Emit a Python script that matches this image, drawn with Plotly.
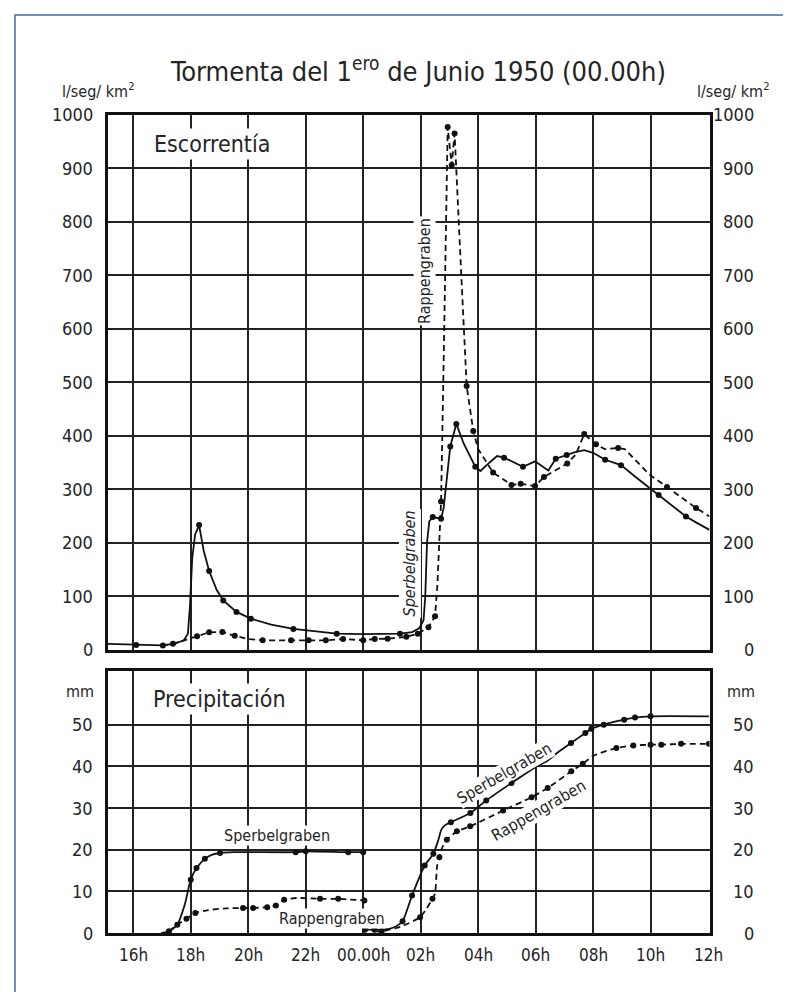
import plotly.graph_objects as go

# ---------------- data ----------------
# Runoff (l/seg/km2), time in hours since 00h of previous day (24 = 00.00h)
SP_Q_T = [15.12, 16.1, 17.0, 17.4, 17.75, 17.9, 17.97, 18.05, 18.15, 18.29, 18.45, 18.64, 18.9, 19.13, 19.59,
          20.09, 20.8, 21.57, 22.3, 23.08, 24.0, 25.28, 25.7, 25.95, 26.1, 26.16, 26.22, 26.3, 26.42, 26.6,
          26.71, 26.8, 26.92, 27.03, 27.24, 27.5, 27.9, 28.08, 28.4, 28.66, 28.9, 29.56, 29.98, 30.44, 30.7,
          31.08, 31.35, 31.69, 32.0, 32.42, 32.97, 33.5, 33.95, 34.28, 35.23, 35.58, 36.05]
SP_Q = [11, 9, 8, 11, 17, 30, 80, 170, 215, 233, 185, 147, 112, 92, 70.6,
        58, 47, 38.8, 34, 30, 29, 30, 33, 40, 55, 100, 200, 240, 248, 247,
        245, 265, 331, 380, 422, 385, 342, 334, 350, 362, 359, 342, 352, 335, 357,
        364, 369, 373, 368, 355, 345, 322, 303, 289, 249, 238, 224]
SP_QD_T = [16.1, 17.03, 17.38, 18.29, 18.64, 19.13, 19.59, 20.09, 21.57, 23.08, 25.28, 26.42, 26.71, 27.03,
           27.24, 27.9, 28.9, 29.56, 30.7, 31.08, 32.42, 32.97, 34.28, 35.23]
SP_QD = [9, 8, 11, 233, 147, 92, 70.6, 58, 38.8, 30, 30, 248, 245, 380,
         422, 342, 359, 342, 357, 364, 355, 345, 289, 249]

RP_Q_T = [17.0, 17.4, 17.8, 18.22, 18.64, 19.1, 19.53, 20.0, 20.5, 21.49, 22.1, 22.7, 23.3, 24.0, 24.4,
          24.85, 25.5, 25.9, 26.27, 26.5, 26.58, 26.65, 26.71, 26.8, 26.88, 26.94, 27.08, 27.18, 27.4, 27.6,
          27.83, 28.0, 28.52, 29.16, 29.48, 29.98, 30.29, 30.7, 31.1, 31.4, 31.69, 32.1, 32.4, 32.87, 33.1,
          33.95, 34.57, 35.58, 36.05]
RP_Q = [8, 11, 18, 25, 32.5, 33, 26, 20, 17.6, 17.6, 17.6, 17.6, 20, 17.6, 20,
        20.6, 24, 30, 42, 62.5, 120, 220, 277, 540, 800, 977, 906, 965, 715, 493,
        409, 375, 331, 308, 310, 306, 323, 335, 348, 365, 403, 384, 375, 377, 375,
        328, 304, 265, 249]
RP_QD_T = [18.22, 18.64, 19.1, 19.53, 20.5, 21.49, 22.1, 22.7, 23.3, 24.0, 24.4, 24.85, 25.5, 25.9, 26.27,
           26.5, 26.71, 26.94, 27.08, 27.18, 27.6, 27.83, 28.52, 29.16, 29.48, 29.98, 30.29, 31.1, 31.69,
           32.1, 32.87, 34.57, 35.58]
RP_QD = [25, 32.5, 33, 26, 17.6, 17.6, 17.6, 17.6, 20, 17.6, 20, 20.6, 24, 30, 42,
         62.5, 277, 977, 906, 965, 493, 409, 331, 308, 310, 306, 323, 348, 403,
         384, 377, 304, 265]

# Cumulative precipitation (mm)
SP_P1_T = [16.97, 17.24, 17.53, 17.79, 18.0, 18.2, 18.49, 18.75, 19.02, 19.5, 21.65, 22.0, 23.48, 24.0]
SP_P1 = [0, 0.4, 2.0, 6.8, 12.8, 15.6, 17.8, 18.8, 19.2, 19.4, 19.4, 19.6, 19.4, 19.4]
SP_P1D_T = [17.24, 17.53, 18.0, 18.2, 18.49, 19.02, 21.65, 22.0, 23.48, 24.0]
SP_P1D = [0.4, 2.0, 12.8, 15.6, 17.8, 19.2, 19.4, 19.6, 19.4, 19.4]

SP_P2_T = [24.06, 24.39, 24.9, 25.15, 25.37, 25.7, 26.14, 26.44, 26.6, 26.72, 26.85, 27.05, 27.73, 28.28,
           29.16, 30.03, 30.39, 30.8, 31.23, 31.73, 31.94, 32.37, 33.08, 33.46, 34.0, 36.03]
SP_P2 = [0.8, 0.8, 1.0, 1.6, 2.8, 9.0, 16.2, 19.0, 22.0, 24.8, 25.9, 26.6, 28.8, 31.8,
         36.0, 40.0, 41.2, 43.5, 45.6, 48.0, 49.0, 50.0, 51.2, 51.7, 52.0, 52.0]
SP_P2D_T = [24.06, 24.39, 25.37, 25.7, 26.14, 26.44, 27.05, 27.73, 28.28, 29.16, 31.23, 31.73, 31.94,
            32.37, 33.08, 33.46, 34.0]
SP_P2D = [0.8, 0.8, 2.8, 9.0, 16.2, 19.0, 26.6, 28.8, 31.8, 36.0, 45.6, 48.0, 49.0,
          50.0, 51.2, 51.7, 52.0]

RP_P1_T = [17.24, 17.53, 17.85, 18.16, 18.6, 19.2, 19.82, 20.17, 20.66, 20.96, 21.25, 21.7, 22.5, 23.13, 24.04]
RP_P1 = [0.4, 2.0, 3.4, 4.8, 5.5, 5.9, 6.0, 6.0, 6.2, 6.6, 8.0, 8.4, 8.2, 8.2, 7.8]
RP_P1D_T = [17.85, 18.16, 19.82, 20.17, 20.66, 20.96, 21.25, 22.5, 23.13, 24.04]
RP_P1D = [3.4, 4.8, 6.0, 6.0, 6.2, 6.6, 8.0, 8.2, 8.2, 7.8]

RP_P2_T = [24.4, 24.64, 25.3, 25.98, 26.2, 26.41, 26.5, 26.57, 26.65, 26.75, 26.91, 27.26, 27.72, 28.87,
           29.86, 30.42, 31.24, 31.64, 32.0, 32.81, 33.4, 34.0, 34.37, 35.06, 36.03]
RP_P2 = [0.4, 0.4, 1.5, 3.8, 5.8, 8.2, 9.5, 16.0, 18.2, 20.5, 22.4, 24.4, 25.6, 29.4,
         32.6, 34.8, 38.8, 40.6, 42.5, 44.4, 45.0, 45.2, 45.2, 45.4, 45.4]
RP_P2D_T = [24.64, 25.98, 26.41, 26.65, 26.91, 27.26, 27.72, 28.87, 29.86, 30.42, 31.24, 31.64, 32.81,
            33.4, 34.0, 34.37, 35.06, 36.03]
RP_P2D = [0.4, 3.8, 8.2, 18.2, 22.4, 24.4, 25.6, 29.4, 32.6, 34.8, 38.8, 40.6, 44.4,
          45.0, 45.2, 45.2, 45.4, 45.4]

Q_TICKS = [0, 100, 200, 300, 400, 500, 600, 700, 800, 900, 1000]
P_TICKS = [0, 10, 20, 30, 40, 50]
X_TICK_H = [16, 18, 20, 22, 24, 26, 28, 30, 32, 34, 36]
X_TICK_LABELS = ["16h", "18h", "20h", "22h", "00.00h", "02h", "04h", "06h", "08h", "10h", "12h"]

# ---------------- figure ----------------
W, H = 791, 992
FONT = "Liberation Sans Narrow, DejaVu Sans Condensed, Arial Narrow, Roboto, sans-serif"
TXT = "#242424"
INK = "#111111"


def py(p):
    return 1 - p / H


def pxx(p):
    return p / W


fig = go.Figure()

SOLID = dict(color=INK, width=1.8)
DASH = dict(color=INK, width=1.8, dash="6px,4px")
DOT = dict(color=INK, size=6)

# top panel
fig.add_trace(go.Scatter(x=SP_Q_T, y=SP_Q, mode="lines", line=SOLID, xaxis="x", yaxis="y"))
fig.add_trace(go.Scatter(x=RP_Q_T, y=RP_Q, mode="lines", line=DASH, xaxis="x", yaxis="y"))
fig.add_trace(go.Scatter(x=SP_QD_T, y=SP_QD, mode="markers", marker=DOT, xaxis="x", yaxis="y"))
fig.add_trace(go.Scatter(x=RP_QD_T, y=RP_QD, mode="markers", marker=DOT, xaxis="x", yaxis="y"))

# bottom panel
for xs, ys, ln in [(SP_P1_T, SP_P1, SOLID), (SP_P2_T, SP_P2, SOLID),
                   (RP_P1_T, RP_P1, DASH), (RP_P2_T, RP_P2, DASH)]:
    fig.add_trace(go.Scatter(x=xs, y=ys, mode="lines", line=dict(ln, shape="spline", smoothing=0.6),
                             xaxis="x2", yaxis="y2"))
for xs, ys in [(SP_P1D_T, SP_P1D), (SP_P2D_T, SP_P2D), (RP_P1D_T, RP_P1D), (RP_P2D_T, RP_P2D)]:
    fig.add_trace(go.Scatter(x=xs, y=ys, mode="markers", marker=DOT, xaxis="x2", yaxis="y2"))

XR = [15.12, 36.05]
common_x = dict(range=XR, tickvals=X_TICK_H[:-1], showticklabels=False, showgrid=True,
                gridcolor="#222222", gridwidth=2, showline=True, mirror=True, linecolor=INK,
                linewidth=2.5, zeroline=False, ticks="", domain=[pxx(100), pxx(701.5)], fixedrange=True)
common_y = dict(showticklabels=False, showgrid=True, gridcolor="#222222", gridwidth=2,
                showline=True, mirror=True, linecolor=INK, linewidth=2.5, zeroline=False,
                ticks="", fixedrange=True)

fig.update_layout(
    width=W, height=H, margin=dict(l=0, r=0, t=0, b=0),
    paper_bgcolor="white", plot_bgcolor="white", showlegend=False,
    font=dict(family=FONT, color=TXT),
    xaxis=dict(common_x, anchor="y"),
    yaxis=dict(common_y, anchor="x", range=[0, 1000], tickvals=Q_TICKS[1:-1],
               domain=[py(641.7), py(106.7)]),
    xaxis2=dict(common_x, anchor="y2"),
    yaxis2=dict(common_y, anchor="x2", range=[0, 62.96], tickvals=P_TICKS[1:],
                domain=[py(925), py(662.7)]),
)

ann = []
# y tick labels (left right-aligned at 87px, right right-aligned at 748px)
for v in Q_TICKS:
    for xp in (87, 748):
        ann.append(dict(x=pxx(xp), xref="paper", y=v, yref="y", text=str(v), showarrow=False,
                        xanchor="right", yanchor="middle", font=dict(size=18, color=TXT)))
for v in P_TICKS:
    for xp in (87, 748):
        ann.append(dict(x=pxx(xp), xref="paper", y=v, yref="y2", text=str(v), showarrow=False,
                        xanchor="right", yanchor="middle", font=dict(size=18, color=TXT)))
# x tick labels
for h, lab in zip(X_TICK_H, X_TICK_LABELS):
    ann.append(dict(x=h, xref="x2", y=py(947), yref="paper", text=lab, showarrow=False,
                    xanchor="center", yanchor="middle", font=dict(size=17, color=TXT)))

# title and units
ann += [
    dict(x=pxx(410), y=py(61), xref="paper", yref="paper", showarrow=False,
         text="Tormenta del 1<sup>ero</sup> de Junio 1950 (00.00h)", font=dict(size=27, color=TXT),
         xanchor="center", yanchor="middle"),
    dict(x=pxx(52), y=py(83), xref="paper", yref="paper", showarrow=False,
         text="l/seg/ km<sup>2</sup>", font=dict(size=16, color=TXT), xanchor="left", yanchor="middle"),
    dict(x=pxx(687), y=py(83), xref="paper", yref="paper", showarrow=False,
         text="l/seg/ km<sup>2</sup>", font=dict(size=16, color=TXT), xanchor="left", yanchor="middle"),
    dict(x=pxx(88), y=py(683), xref="paper", yref="paper", showarrow=False,
         text="mm", font=dict(size=16, color=TXT), xanchor="right", yanchor="middle"),
    dict(x=pxx(749), y=py(683), xref="paper", yref="paper", showarrow=False,
         text="mm", font=dict(size=16, color=TXT), xanchor="right", yanchor="middle"),
]

# panel and series labels (white boxes interrupt the grid, as in the original)
LB = dict(showarrow=False, bgcolor="white", borderpad=2)
ann += [
    dict(LB, x=18.74, y=945, xref="x", yref="y", text="Escorrentía", font=dict(size=23, color=TXT)),
    dict(LB, x=19.0, y=56.2, xref="x2", yref="y2", text="Precipitación", font=dict(size=23, color=TXT)),
    dict(LB, x=25.61, y=162, xref="x", yref="y", text="<i>Sperbelgraben</i>", textangle=-90,
         font=dict(size=16, color=TXT), borderpad=1),
    dict(LB, x=26.15, y=708, xref="x", yref="y", text="Rappengraben", textangle=-90,
         font=dict(size=16, color=TXT), borderpad=1),
    dict(LB, x=20.99, y=23.3, xref="x2", yref="y2", text="Sperbelgraben",
         font=dict(size=16, color=TXT), borderpad=0),
    dict(LB, x=22.93, y=3.6, xref="x2", yref="y2", text="Rappengraben",
         font=dict(size=16, color=TXT), borderpad=0),
    dict(LB, x=28.89, y=38.4, xref="x2", yref="y2", text="Sperbelgraben", textangle=-30,
         font=dict(size=16, color=TXT), borderpad=0),
    dict(LB, x=30.1, y=29.3, xref="x2", yref="y2", text="Rappengraben", textangle=-30,
         font=dict(size=16, color=TXT), borderpad=0),
]
fig.update_layout(annotations=ann)

# blue outer frame (only left and top edges visible)
fig.add_shape(type="rect", xref="paper", yref="paper", x0=pxx(7), x1=1.05, y0=-0.05, y1=py(7),
              line=dict(color="#3a6cb3", width=1.5), layer="below")

fig.write_html("out.html")
